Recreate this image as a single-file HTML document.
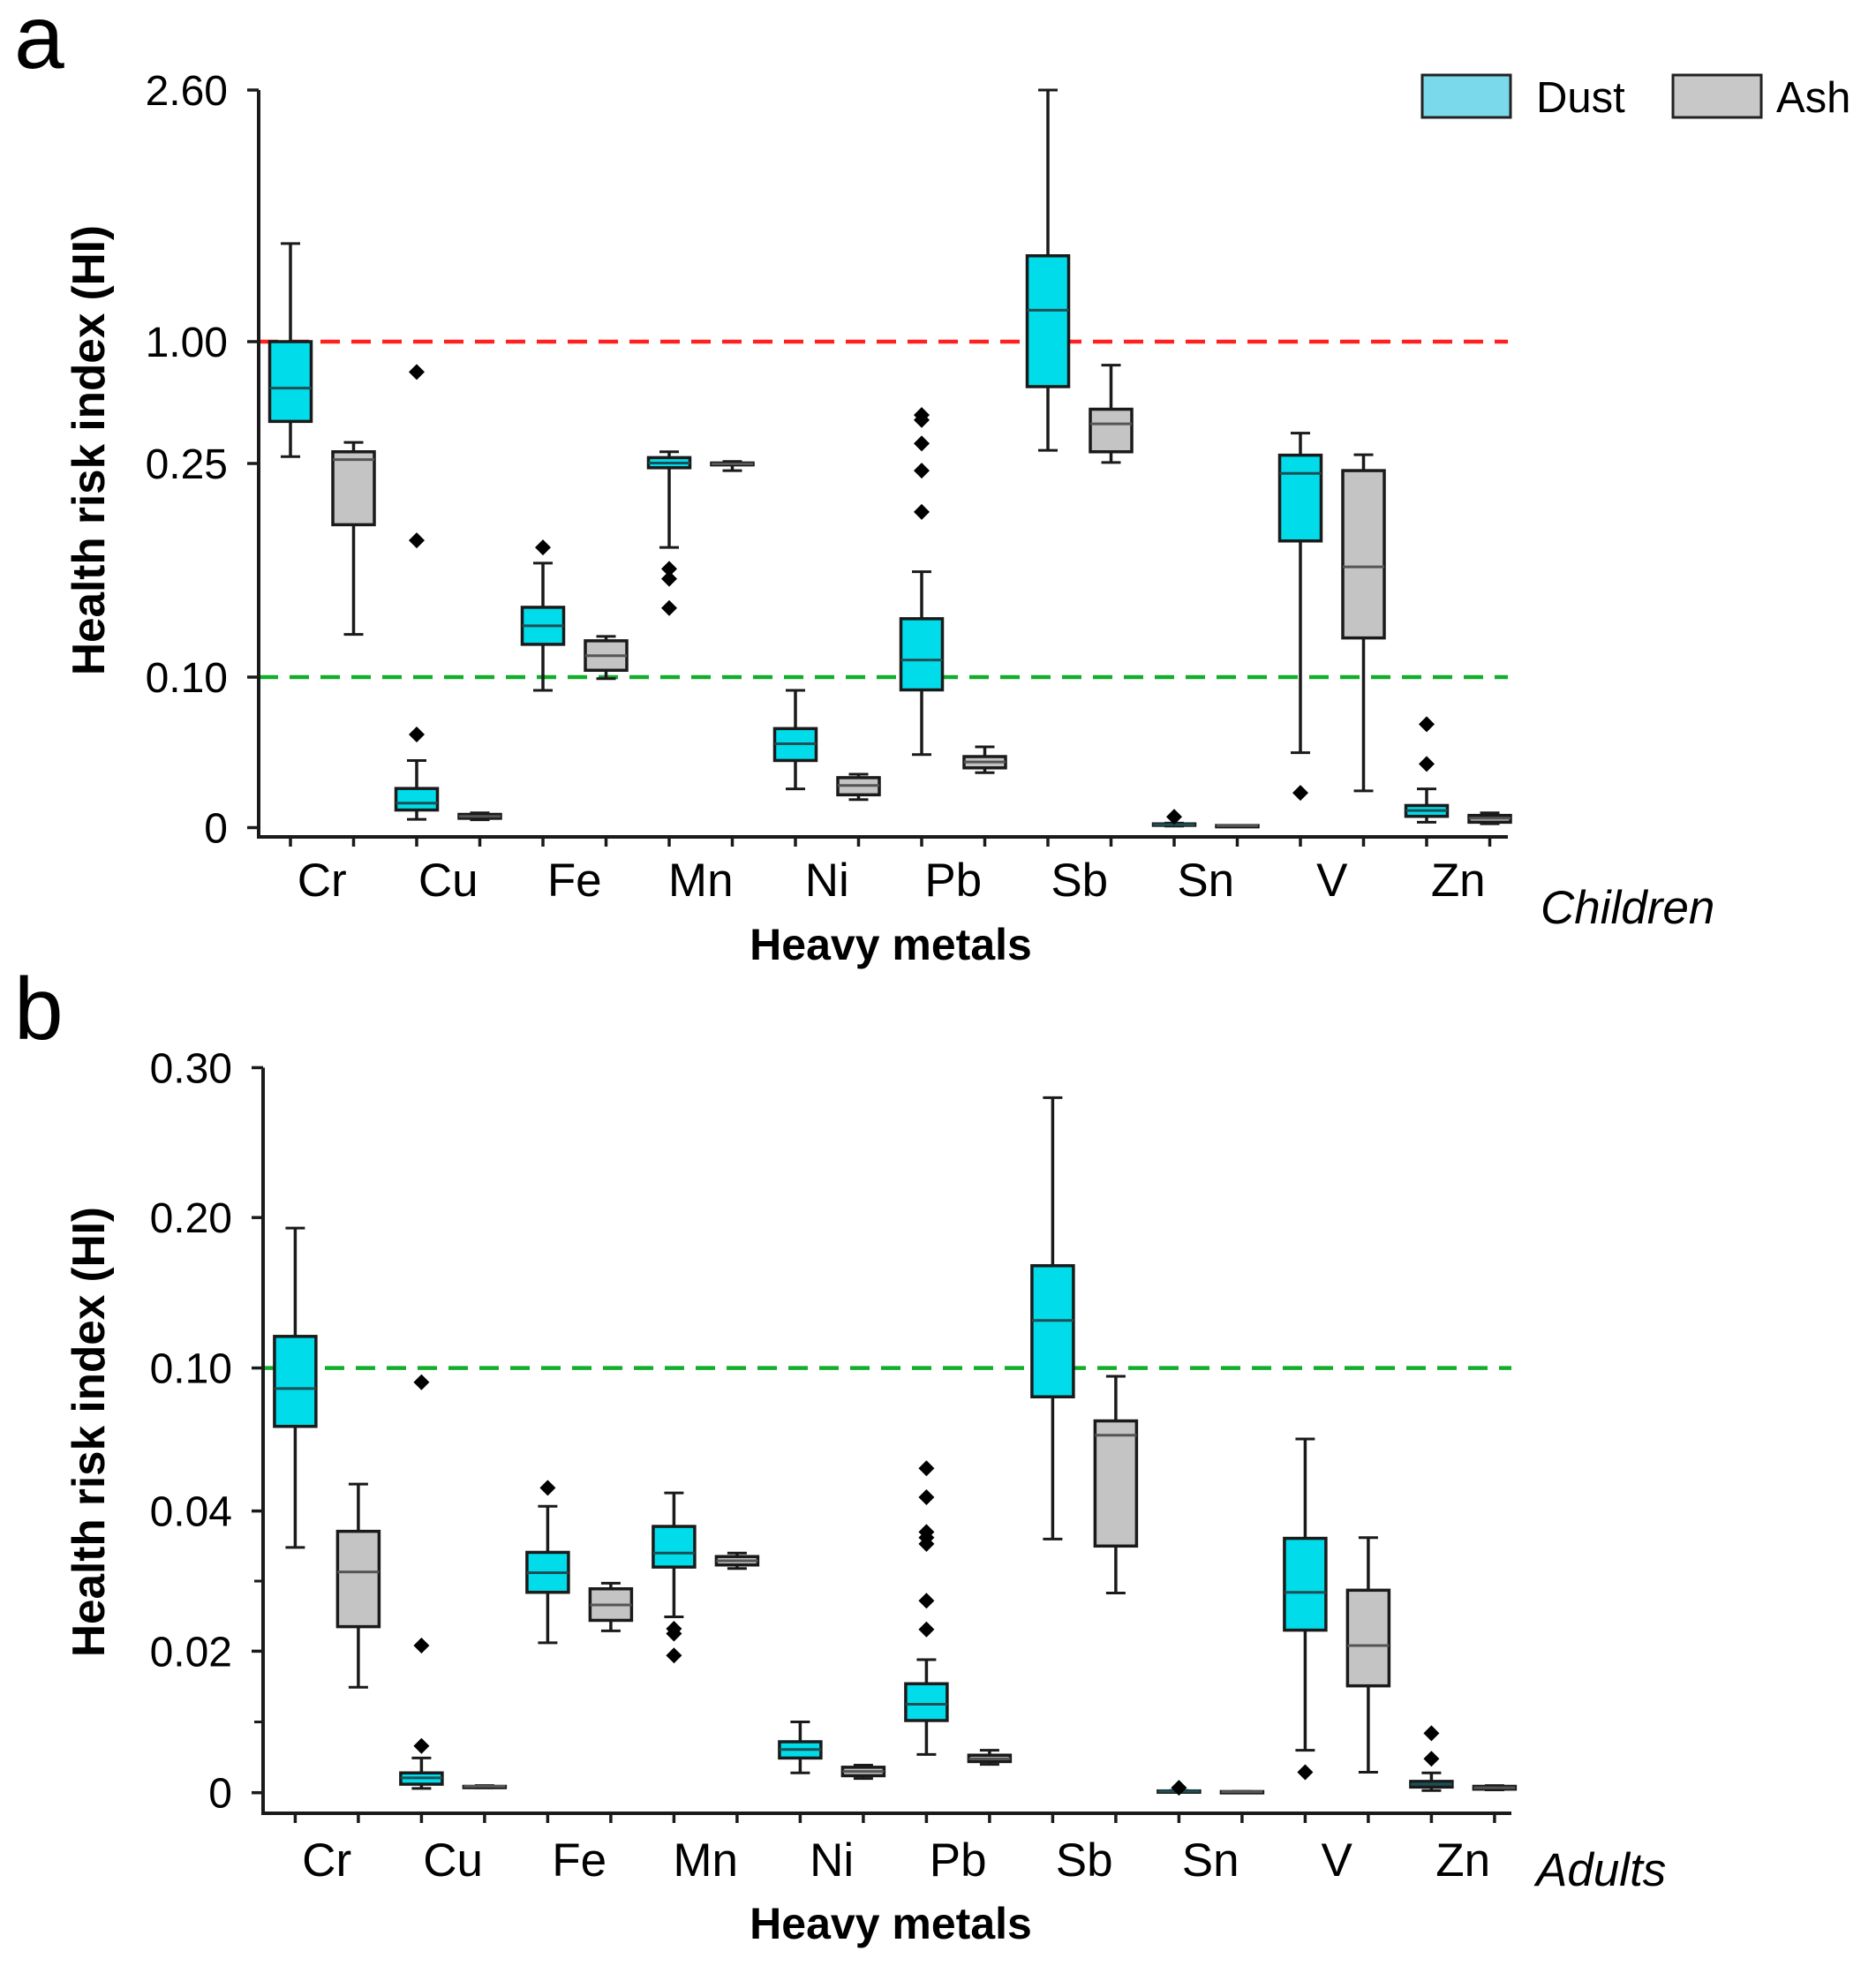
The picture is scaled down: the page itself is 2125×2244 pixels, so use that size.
<!DOCTYPE html>
<html><head><meta charset="utf-8">
<style>
html,body{margin:0;padding:0;background:#fff;}
svg{display:block;font-family:"Liberation Sans",Arial,sans-serif;}
</style></head>
<body>
<svg id="chart" width="2125" height="2244" viewBox="0 0 2125 2244" xmlns="http://www.w3.org/2000/svg">
  <text x="16" y="77" font-size="102" fill="#000">a</text>
  <text x="16" y="1177" font-size="100" fill="#000">b</text>
  <g>
    <rect x="1611" y="85" width="100" height="48" fill="#7ad9ea" stroke="#222" stroke-width="3"/>
    <text x="1740" y="127" font-size="49" fill="#000">Dust</text>
    <rect x="1895" y="85" width="100" height="48" fill="#c8c8c8" stroke="#222" stroke-width="3"/>
    <text x="2012" y="127" font-size="49" fill="#000">Ash</text>
  </g>
  <g id="panelA"></g>
  <g id="panelB"></g>
</svg>
<script>
// ---- data ----
const categories = ["Cr","Cu","Fe","Mn","Ni","Pb","Sb","Sn","V","Zn"];
// children [low, q1, median, q3, high]
const childDust = [
 [0.292,0.509,0.714,1.00,1.624],[0.0055,0.0117,0.0163,0.026,0.0446],[0.0912,0.123,0.136,0.149,0.180],
 [0.191,0.247,0.253,0.286,0.322],[0.0257,0.0446,0.0557,0.0658,0.0912],[0.0485,0.0915,0.112,0.141,0.174],
 [0.331,0.723,1.20,1.546,2.60],[0.001,0.0015,0.002,0.0025,0.003],[0.0498,0.1956,0.243,0.301,0.437],
 [0.0036,0.0075,0.0114,0.0147,0.0257]];
const childAsh = [
 [0.130,0.207,0.274,0.322,0.380],[0.0052,0.0062,0.0075,0.0088,0.0098],[0.099,0.1048,0.115,0.1255,0.1286],
 [0.245,0.249,0.2497,0.253,0.262],[0.0186,0.0218,0.028,0.0332,0.0355],[0.0365,0.0397,0.0436,0.0472,0.0537],
 [0.256,0.322,0.494,0.584,0.855],[0.0011,0.0012,0.0013,0.0014,0.0015],[0.0244,0.1275,0.1774,0.245,0.304],
 [0.0026,0.0036,0.0062,0.0081,0.0098]];
const childDustOut = [[],[0.813,0.196,0.0619],[0.191],[0.176,0.169,0.1485],[],[0.548,0.518,0.373,0.245,0.216],[],[0.0072],[0.0231],[0.0687,0.0423]];
const childAshOut = [[],[],[],[],[],[],[],[],[],[]];
// adults
const adultDust = [
 [0.0348,0.0755,0.0914,0.121,0.193],[0.0006,0.0012,0.0021,0.0028,0.0049],[0.0212,0.0284,0.0312,0.0341,0.0420],
 [0.0249,0.0320,0.034,0.0378,0.0476],[0.0028,0.0049,0.0061,0.0072,0.0100],[0.0054,0.0102,0.0125,0.0154,0.0188],
 [0.036,0.0879,0.1316,0.168,0.280],[0.0001,0.00015,0.0002,0.00025,0.0003],[0.006,0.023,0.0284,0.0361,0.0702],
 [0.0003,0.0008,0.0012,0.0016,0.0028]];
const adultAsh = [
 [0.0149,0.0235,0.0313,0.0371,0.0513],[0.0007,0.0008,0.0009,0.0009,0.0010],[0.0229,0.0244,0.0266,0.0289,0.0297],
 [0.0318,0.0323,0.0329,0.0335,0.034],[0.002,0.0024,0.003,0.0036,0.0039],[0.004,0.0044,0.0048,0.0053,0.006],
 [0.0283,0.035,0.0718,0.0778,0.0965],[0.0001,0.00012,0.00014,0.00016,0.00018],[0.0029,0.0151,0.0208,0.0287,0.0362],
 [0.0004,0.0005,0.0007,0.0009,0.001]];
const adultDustOut = [[],[0.094,0.0208,0.0066],[0.0497],[0.0232,0.0225,0.0194],[],[0.0579,0.0458,0.037,0.0362,0.0353,0.0272,0.0231],[],[0.0007],[0.0029],[0.0084,0.0048]];
const adultAshOut = [[],[],[],[],[],[],[],[],[],[]];
const tickValsA = [0,0.10,0.25,1.00,2.60];
const tickLabelsA = ["0","0.10","0.25","1.00","2.60"];
const tickValsB = [0,0.02,0.04,0.10,0.20,0.30];
const tickLabelsB = ["0","0.02","0.04","0.10","0.20","0.30"];
const minorValsB = [0.01,0.03];
const refLinesA = [1.00,0.10];
const refLinesB = [0.10];

const NS = "http://www.w3.org/2000/svg";
function mk(parent, tag, attrs){
  const e = document.createElementNS(NS, tag);
  for (const k in attrs) e.setAttribute(k, attrs[k]);
  parent.appendChild(e);
  return e;
}
function pieceScale(vals, pix){
  return function(v){
    if (v <= vals[0]) return pix[0];
    for (let i=1;i<vals.length;i++){
      if (v <= vals[i]) return pix[i-1] + (v-vals[i-1])/(vals[i]-vals[i-1])*(pix[i]-pix[i-1]);
    }
    return pix[pix.length-1];
  };
}

function drawPanel(g, cfg){
  const y = pieceScale(cfg.tickVals, cfg.tickPix);
  const xDust = i => cfg.x0 + 143*i;
  const xAsh = i => cfg.x0 + 71.5 + 143*i;
  cfg.refs.forEach((r, k) => {
    const l = mk(g, "line", {x1: cfg.axisX, x2: cfg.axisRight, y1: y(r), y2: y(r), stroke: r === 1.00 ? "#ff2020" : "#12ad2b", "stroke-width": 4.5, "stroke-dasharray": "22 13"});
    
    
  });
  function box(i, d, isDust, outs){
    const cx = isDust ? xDust(i) : xAsh(i);
    const bg = mk(g, "g", {});
    
    
    const hw = 23.5, cw = 11;
    mk(bg, "line", {x1:cx, x2:cx, y1:y(d[0]), y2:y(d[4]), stroke:"#1a1a1a", "stroke-width":3.5});
    mk(bg, "line", {x1:cx-cw, x2:cx+cw, y1:y(d[0]), y2:y(d[0]), stroke:"#1a1a1a", "stroke-width":3});
    mk(bg, "line", {x1:cx-cw, x2:cx+cw, y1:y(d[4]), y2:y(d[4]), stroke:"#1a1a1a", "stroke-width":3});
    const top = y(d[3]), bot = y(d[1]);
    mk(bg, "rect", {x:cx-hw, y:top, width:2*hw, height:Math.max(bot-top,1.5), fill: isDust ? "#00dcea" : "#c4c4c4", stroke:"#1a1a1a", "stroke-width":3.5});
    mk(bg, "line", {x1:cx-hw, x2:cx+hw, y1:y(d[2]), y2:y(d[2]), stroke: isDust ? "#1d4f55" : "#555", "stroke-width":3});
    outs.forEach(v => {
      const oy = y(v);
      const p = mk(bg, "path", {d:`M${cx} ${oy-9} L${cx+9} ${oy} L${cx} ${oy+9} L${cx-9} ${oy} Z`, fill:"#000"});
      
      
    });
  }
  categories.forEach((c,i) => {
    box(i, cfg.dust[i], true, cfg.dustOut[i]);
    box(i, cfg.ash[i], false, cfg.ashOut[i]);
    const t1 = mk(g, "line", {x1:xDust(i), x2:xDust(i), y1:cfg.axisY, y2:cfg.axisY+11, stroke:"#1a1a1a", "stroke-width":3.5});
    
    
    const t2 = mk(g, "line", {x1:xAsh(i), x2:xAsh(i), y1:cfg.axisY, y2:cfg.axisY+11, stroke:"#1a1a1a", "stroke-width":3.5});
    
    
    const lab = mk(g, "text", {x:(xDust(i)+xAsh(i))/2, y:cfg.catY, "font-size":53, "text-anchor":"middle", fill:"#000"});
    lab.textContent = c;
    
    
  });
  const ya = mk(g, "line", {x1:cfg.axisX, x2:cfg.axisX, y1:cfg.tickPix[cfg.tickPix.length-1], y2:cfg.axisY+2, stroke:"#1a1a1a", "stroke-width":4});
  
  
  const xa = mk(g, "line", {x1:cfg.axisX-2, x2:cfg.axisRight, y1:cfg.axisY, y2:cfg.axisY, stroke:"#1a1a1a", "stroke-width":4});
  
  
  cfg.tickVals.forEach((v,k) => {
    const ty = y(v);
    const tk = mk(g, "line", {x1:cfg.axisX-13, x2:cfg.axisX, y1:ty, y2:ty, stroke:"#1a1a1a", "stroke-width":3.5});
    
    
    const tl = mk(g, "text", {x:cfg.labelX, y:ty+17, "font-size":48, "text-anchor":"end", fill:"#000"});
    tl.textContent = cfg.tickLabels[k];
    
    
  });
  cfg.minor.forEach(v => {
    const mt = mk(g, "line", {x1:cfg.axisX-10, x2:cfg.axisX, y1:y(v), y2:y(v), stroke:"#1a1a1a", "stroke-width":3});
    
    
  });
  const yt = mk(g, "text", {x:0, y:0, "font-size":52, "font-weight":"bold", "text-anchor":"middle", fill:"#000", textLength:510, lengthAdjust:"spacingAndGlyphs", transform:`translate(118 ${cfg.titleY}) rotate(-90)`});
  yt.textContent = "Health risk index (HI)";
  
  
  const xt = mk(g, "text", {x:1009, y:cfg.xTitleY, "font-size":50, "font-weight":"bold", "text-anchor":"middle", fill:"#000"});
  xt.textContent = "Heavy metals";
  
  
  const gt = mk(g, "text", {x:cfg.groupX, y:cfg.groupY, "font-size":53, "font-style":"italic", fill:"#000"});
  gt.textContent = cfg.group;
  
  
}

drawPanel(document.getElementById("panelA"), {
  tickVals: tickValsA, tickLabels: tickLabelsA, tickPix:[937.5,767,525,387,102],
  dust: childDust, ash: childAsh, dustOut: childDustOut, ashOut: childAshOut,
  refs: refLinesA, minor: [], x0: 329, axisX: 293, axisRight: 1708, axisY: 948, labelX: 258,
  catY: 1015, xTitleY: 1087, titleY: 510, group: "Children", groupX: 1745, groupY: 1046
});
drawPanel(document.getElementById("panelB"), {
  tickVals: tickValsB, tickLabels: tickLabelsB, tickPix:[2030.7,1870.4,1711.6,1549.6,1379.2,1209.4],
  dust: adultDust, ash: adultAsh, dustOut: adultDustOut, ashOut: adultAshOut,
  refs: refLinesB, minor: minorValsB, x0: 334.4, axisX: 298, axisRight: 1712, axisY: 2054, labelX: 263,
  catY: 2125, xTitleY: 2196, titleY: 1622, group: "Adults", groupX: 1740, groupY: 2136
});
</script>
</body></html>
